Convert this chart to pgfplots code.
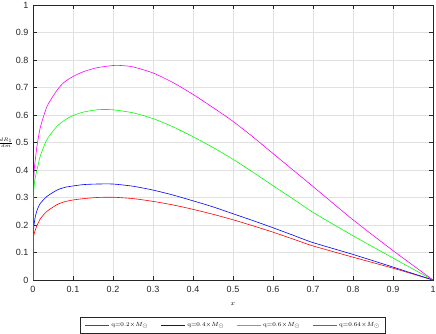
\documentclass[border=0pt]{standalone}
\usepackage{pgfplots}
\pgfplotsset{compat=1.18}
\usepackage{fontspec}
\newfontfamily\ticksf{Liberation Sans}
\definecolor{axgray}{RGB}{38,38,38}
\definecolor{gridgray}{RGB}{225,225,225}
\definecolor{mred}{RGB}{255,0,0}
\definecolor{mblue}{RGB}{0,0,255}
\definecolor{mgreen}{RGB}{0,255,0}
\definecolor{mmag}{RGB}{255,0,255}
\newcommand{\lf}{\fontsize{5.8}{6.5}\selectfont}
\begin{document}
\begin{tikzpicture}
\begin{axis}[
  scale only axis,
  width=400pt, height=275pt,
  xmin=0, xmax=1, ymin=0, ymax=1,
  xtick={0,0.1,...,1.01}, ytick={0,0.1,...,1.01},
  xticklabels={0,0.1,0.2,0.3,0.4,0.5,0.6,0.7,0.8,0.9,1},
  yticklabels={0,0.1,0.2,0.3,0.4,0.5,0.6,0.7,0.8,0.9,1},
  grid=major,
  major grid style={gridgray, line width=0.5pt},
  axis line style={axgray, line width=0.5pt},
  tick style={axgray, line width=0.5pt},
  tick align=inside,
  major tick length=4pt,
  ticklabel style={font=\ticksf\fontsize{9}{10}\selectfont, text=axgray},
  /pgf/number format/assume math mode=true,
  xticklabel style={yshift=-3pt},
  yticklabel style={xshift=-1pt},
  xlabel={$x$},
  xlabel style={font=\fontsize{7.5}{8}\selectfont, at={(axis description cs:0.5,0)}, anchor=north, yshift=-19pt},
  ylabel={$\frac{dR_1}{dm}$},
  ylabel style={rotate=-90, font=\fontsize{7}{8}\selectfont, at={(axis description cs:0,0.5)}, anchor=center, xshift=-27pt},
  legend style={at={(0.5,-0.135)}, anchor=north, legend columns=4,
    draw=axgray, line width=0.5pt, font=\lf,
    /tikz/every even column/.append style={column sep=10pt},
    inner xsep=4pt, inner ysep=3pt},
  legend image code/.code={\draw[#1, line width=1pt] (0pt,0pt) -- (24pt,0pt);},
]
\addplot[color=mred, line width=0.6pt, smooth, tension=0.4] coordinates {
(0,0) (0.0003,0.12) (0.001,0.15) (0.003,0.17) (0.006,0.183) (0.01,0.198)
(0.018,0.222) (0.035,0.250) (0.06,0.274) (0.08,0.285) (0.1,0.291)
(0.127,0.296) (0.16,0.300) (0.2,0.301) (0.25,0.296) (0.3,0.286)
(0.35,0.273) (0.4,0.257) (0.45,0.239) (0.5,0.219) (0.55,0.197) (0.6,0.174)
(0.65,0.149) (0.7,0.124) (0.8,0.083) (0.9,0.043) (1,0)};
\addlegendentry{q=0.2$\times M_\odot$}
\addplot[color=mblue, line width=0.6pt, smooth, tension=0.4] coordinates {
(0,0) (0.0003,0.15) (0.001,0.175) (0.003,0.205) (0.006,0.232) (0.01,0.253)
(0.018,0.278) (0.035,0.304) (0.06,0.327) (0.08,0.337) (0.1,0.342)
(0.127,0.347) (0.16,0.349) (0.2,0.349) (0.25,0.341) (0.3,0.327)
(0.35,0.309) (0.4,0.288) (0.45,0.266) (0.5,0.241) (0.55,0.216) (0.6,0.190)
(0.65,0.163) (0.7,0.136) (0.8,0.093) (0.9,0.047) (1,0)};
\addlegendentry{q=0.4$\times M_\odot$}
\addplot[color=mgreen, line width=0.6pt, smooth, tension=0.4] coordinates {
(0,0) (0.0003,0.24) (0.001,0.29) (0.003,0.345) (0.006,0.375) (0.01,0.40)
(0.018,0.45) (0.035,0.511) (0.06,0.559) (0.08,0.582) (0.1,0.598)
(0.127,0.611) (0.16,0.619) (0.18,0.620) (0.2,0.619) (0.25,0.608)
(0.3,0.587) (0.35,0.557) (0.4,0.521) (0.45,0.482) (0.5,0.439) (0.55,0.392)
(0.6,0.343) (0.65,0.295) (0.7,0.246) (0.8,0.161) (0.9,0.080) (1,0)};
\addlegendentry{q=0.6$\times M_\odot$}
\addplot[color=mmag, line width=0.6pt, smooth, tension=0.4] coordinates {
(0,0) (0.0003,0.26) (0.001,0.32) (0.003,0.40) (0.006,0.44) (0.01,0.487)
(0.018,0.553) (0.035,0.631) (0.06,0.69) (0.077,0.718) (0.1,0.740)
(0.127,0.758) (0.16,0.772) (0.2,0.780) (0.22,0.780) (0.25,0.775)
(0.3,0.753) (0.35,0.718) (0.4,0.675) (0.45,0.627) (0.5,0.577) (0.55,0.520)
(0.6,0.460) (0.65,0.400) (0.7,0.340) (0.8,0.219) (0.9,0.107) (1,0)};
\addlegendentry{q=0.64$\times M_\odot$}
\end{axis}
\pgfresetboundingbox
\path[use as bounding box] ([shift={(-33pt,-53pt)}]current axis.south west) rectangle ([shift={(3pt,5pt)}]current axis.north east);
\end{tikzpicture}
\end{document}
